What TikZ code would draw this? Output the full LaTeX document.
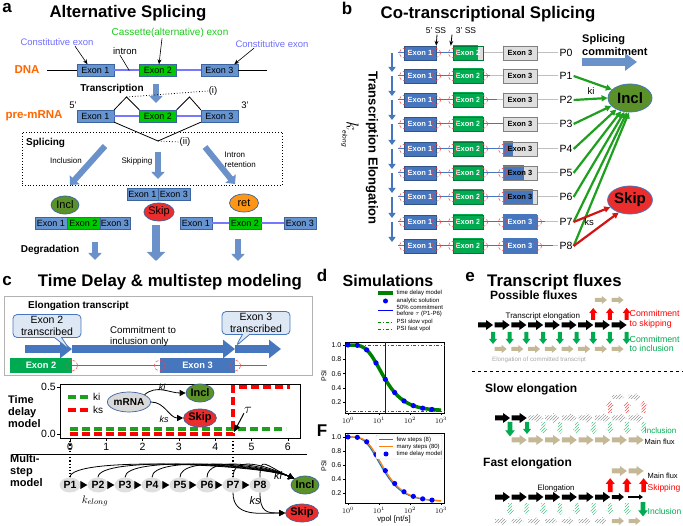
\documentclass[tikz,border=0pt]{standalone}
\usepackage{fontspec}
\setmainfont{Liberation Sans}
\usepackage{tikz}
\usetikzlibrary{arrows.meta, positioning, shapes.geometric, shapes.callouts, patterns, calc}

\newcommand\fsz[2]{\fontsize{#1}{#2}\selectfont}

\definecolor{exA}{RGB}{102,148,208}
\definecolor{exAbord}{RGB}{60,100,160}
\definecolor{exGA}{RGB}{0,200,0}
\definecolor{intr}{RGB}{120,120,255}
\definecolor{dnaor}{RGB}{255,102,0}
\definecolor{constcol}{RGB}{110,110,255}
\definecolor{cascol}{RGB}{30,200,30}
\definecolor{inclc}{RGB}{90,145,40}
\definecolor{skipc}{RGB}{235,45,45}
\definecolor{retc}{RGB}{255,150,20}
\definecolor{blkc}{RGB}{110,152,205}
\definecolor{exB}{RGB}{70,118,190}
\definecolor{exGB}{RGB}{0,170,80}
\definecolor{greyex}{RGB}{222,222,222}
\definecolor{kigreen}{RGB}{30,160,30}
\definecolor{kired}{RGB}{210,20,20}
\definecolor{callf}{RGB}{222,232,244}
\definecolor{beige}{RGB}{196,184,150}
\definecolor{fgreen}{RGB}{0,170,80}
\definecolor{mplblue}{RGB}{31,119,180}
\definecolor{mplorange}{RGB}{255,127,14}

\tikzset{
  panlab/.style={font=\fsz{17}{19}\bfseries, inner sep=0},
  ptitle/.style={font=\fsz{16.8}{19}\bfseries, inner sep=0},
  txt/.style={font=\fsz{9.5}{11}, inner sep=0.5pt},
  orlab/.style={font=\fsz{11.5}{13}\bfseries, text=dnaor, inner sep=0},
  exa/.style={rectangle, draw=exAbord, fill=exA, inner sep=0, minimum width=37,
              minimum height=12, font=\fsz{9}{10}},
  intron/.style={intr, line width=2pt},
  spl/.style={black, line width=0.8pt},
  ptr/.style={-{Stealth[length=5pt,width=4pt]}, line width=0.6pt},
  blka/.style={blkc, line width=6pt, -{Triangle[length=7pt,width=13pt]}},
  blkb/.style={blkc, line width=8pt, -{Triangle[length=9pt,width=18pt]}},
  ell/.style={ellipse, draw=exAbord, line width=0.7pt, inner sep=0, minimum width=28,
              minimum height=18, font=\fsz{11}{12}},
  exb/.style={rectangle, fill=exB, draw=exB!70!black, inner sep=0, minimum width=32,
              minimum height=14, text=white, font=\fsz{7.5}{8}\bfseries},
  bpart/.style 2 args={rectangle, inner sep=0, minimum height=14, fill=greyex,
              font=\fsz{7.5}{8}\bfseries,
              path picture={\fill[#1] (path picture bounding box.south west) rectangle ++(#2,-20);}},
  ssite/.style={circle, draw=red!75, densely dashed, line width=0.5pt, minimum size=9, inner sep=0},
  rowb/.style={exB, line width=1pt},
  rowg/.style={gray!50, line width=1pt},
  elarr/.style={exB, line width=2.5pt, -{Triangle[length=5pt,width=7pt]}, shorten >=4pt},
  bell/.style={ellipse, draw=exB, line width=0.8pt, inner sep=0, minimum width=44,
               minimum height=28, font=\fsz{15}{17}\bfseries},
  kia/.style={kigreen, line width=2.2pt, -{Triangle[length=6pt,width=6pt]}},
  ksa/.style={kired, line width=2.2pt, -{Triangle[length=6pt,width=6pt]}},
  blkc/.style={exB!80, line width=8pt, -{Triangle[length=12pt,width=17pt]}},
  bigarr/.style={exB, line width=8pt, -{Triangle[length=12pt,width=18pt]}},
  callbox/.style={rectangle callout, rounded corners=4pt, fill=callf, draw=exB,
                  line width=0.8pt, align=center, font=\fsz{10.5}{11.5}, inner sep=2pt, minimum width=68},
  exbar/.style={rectangle, inner sep=0, minimum height=15, text=white, font=\fsz{9.3}{10}\bfseries},
  kid/.style={kigreen, line width=3.5pt, dash pattern=on 8pt off 4pt},
  ksd/.style={red, line width=3.5pt, dash pattern=on 8pt off 4pt},
  curv/.style={-{Triangle[length=6pt,width=6pt]}, line width=0.8pt},
  pell/.style={ellipse, fill=gray!25, inner sep=0, minimum width=21, minimum height=15,
               font=\fsz{10.5}{11}\bfseries},
  tick/.style={font=\fsz{7}{8}, inner sep=0.5pt},
  leg/.style={anchor=west, font=\fsz{6}{6.5}, inner sep=0.5pt},
  tdm/.style={green!50!black, line width=3.5pt},
  psis/.style={green!50!black, line width=0.6pt, dash dot},
  psif/.style={red, line width=0.6pt, dash dot},
  small/.style={font=\fsz{8}{9.5}, inner sep=0.5pt},
  hatg/.style={pattern=north east lines, pattern color=gray!80},
  hatgr/.style={pattern=north east lines, pattern color=fgreen!70},
  hatr/.style={pattern=north east lines, pattern color=red!70},
  fa/.pic={\path[pic actions] (0,-2.5) -- (8,-2.5) -- (8,-5) -- (15,0) -- (8,5) -- (8,2.5) -- (0,2.5) -- cycle;},
  fb/.pic={\path[pic actions] (0,-2) -- (7,-2) -- (7,-4) -- (12,0) -- (7,4) -- (7,2) -- (0,2) -- cycle;}
}

\begin{document}
\begin{tikzpicture}[x=1pt, y=-1pt]
\useasboundingbox (0,0) rectangle (683,526);

% ---------- a: alternative splicing
\node[panlab] (la) at (7,8) {a};
\node[ptitle] (ta) at (128,13) {Alternative Splicing};

\node[orlab] (dna) at (27,70) {DNA};
\node[exa] (d1) at (95.5,70.5) {Exon 1};
\node[exa, fill=exGA] (d2) at (158,70.5) {Exon 2};
\node[exa] (d3) at (219.5,70.5) {Exon 3};
\coordinate (dl) at (47,70.5);
\coordinate (dr) at (267,70.5);
\draw (dl) -- (d1.west);
\draw (d3.east) -- (dr);
\draw[intron] (d1.east) -- (d2.west) (d2.east) -- (d3.west);

\node[txt, text=constcol] (ce1) at (57,42) {Constitutive exon};
\draw[ptr] ([xshift=18]ce1.south) -- ([xshift=-8]d1.north);
\node[txt] (intl) at (125,51) {intron};
\draw[line width=0.6pt] ([xshift=-5]intl.south) -- ($(d1.east)!0.6!(d2.west)$);
\node[txt, font=\fsz{10}{11}, text=cascol] (cas) at (170,33) {Cassette(alternative) exon};
\draw[ptr] ([xshift=-8]cas.south) -- ([xshift=1]d2.north);
\node[txt, text=constcol] (ce2) at (272,44) {Constitutive exon};
\draw[ptr] ([xshift=-18]ce2.south) -- ([xshift=-4]d3.north east);

\node[font=\fsz{10}{11}\bfseries, inner sep=0] (trs) at (112,89) {Transcription};
\coordinate (tr1) at (156,84);
\coordinate (tr2) at (156,103);
\draw[blka] (tr1) -- (tr2);

\node[orlab] (pre) at (34,116) {pre-mRNA};
\node[txt] (f5) at (73,105) {5'};
\node[exa] (m1) at (95.5,116) {Exon 1};
\node[exa, fill=exGA] (m2) at (158,116) {Exon 2};
\node[exa] (m3) at (219.5,116) {Exon 3};
\node[txt] (f3) at (245,105) {3'};
\draw[intron] (m1.east) -- (m2.west) (m2.east) -- (m3.west);
\coordinate (pk1) at (126.5,97);
\coordinate (pk2) at (189.5,97);
\coordinate (skj) at (158,141);
\draw[spl] (m1.north east) -- (pk1) -- (m2.north west);
\draw[spl] (m2.north east) -- (pk2) -- (m3.north west);
\draw[spl] (m1.south east) -- (skj) -- (m3.south west);
\node[txt] (li) at (213,91) {(i)};
\draw[dotted, thick] (pk1) -- (li.west);
\node[txt] (lii) at (185,142) {(ii)};
\draw[dotted, thick] (skj) -- (lii.west);

\node[draw, dotted, thick, minimum width=260, minimum height=53, inner sep=0] (spbox) at (152,158.5) {};
\node[font=\fsz{10}{11}\bfseries, anchor=west, inner sep=0] (splt) at (26,143) {Splicing};
\node[small] (inc) at (66,161) {Inclusion};
\node[small] (skp) at (137,161) {Skipping};
\node[small, align=left, anchor=west] (ret) at (224,160) {Intron\\retention};
\coordinate (a1s) at (105,146);
\coordinate (a1e) at (70,185);
\coordinate (a2s) at (158,152);
\coordinate (a2e) at (158,179);
\coordinate (a3s) at (205,147);
\coordinate (a3e) at (235,184);
\draw[blka] (a1s) -- (a1e);
\draw[blka] (a2s) -- (a2e);
\draw[blka] (a3s) -- (a3e);

\node[exa, minimum width=31] (s1) at (142.5,194) {Exon 1};
\node[exa, minimum width=32] (s3) at (174,194) {Exon 3};
\node[ell, fill=skipc] (skA) at (159,212) {Skip};
\node[ell, fill=inclc] (inA) at (65,205) {Incl};
\node[exa, minimum width=32] (i1) at (51,223) {Exon 1};
\node[exa, fill=exGA, minimum width=33] (i2) at (83.5,223) {Exon 2};
\node[exa, minimum width=30] (i3) at (115,223) {Exon 3};
\node[ell, fill=retc, minimum width=29] (reA) at (244,203) {ret};
\node[exa, minimum width=32] (r1) at (196,223) {Exon 1};
\node[exa, fill=exGA, minimum width=32] (r2) at (245,223) {Exon 2};
\node[exa, minimum width=32] (r3) at (300,223) {Exon 3};
\draw[intron] (r1.east) -- (r2.west) (r2.east) -- (r3.west);

\node[font=\fsz{10}{11}\bfseries, inner sep=0] (deg) at (50,250) {Degradation};
\coordinate (g1s) at (95,242);
\coordinate (g1e) at (95,260);
\coordinate (g2s) at (156,225);
\coordinate (g2e) at (156,261);
\coordinate (g3s) at (238,239);
\coordinate (g3e) at (238,261);
\draw[blka] (g1s) -- (g1e);
\draw[blkb] (g2s) -- (g2e);
\draw[blka] (g3s) -- (g3e);

% ---------- b: co-transcriptional splicing
\node[panlab] (lb) at (347,8) {b};
\node[ptitle] (tb) at (488,14) {Co-transcriptional Splicing};
\node[small, font=\fsz{8.5}{9}] (ss5) at (436,31) {5' SS};
\node[small, font=\fsz{8.5}{9}] (ss3) at (466,31) {3' SS};

\foreach \i/\y/\f/\gw/\bw/\bc/\tc in {0/53/483/25/0/gray/black, 1/76/490/30/0/gray/black,
    2/100/497/30/0/gray/black, 3/124/503/30/0/gray/black, 4/149/513/30/10/gray/black,
    5/173/524/30/21/gray/black, 6/197/533/30/30/gray/black, 7/222/545/30/34/exB/white,
    8/246/553/30/34/exB/white} {
  \coordinate (dn\i) at (392,\y);
  \coordinate (st\i) at (398,\y);
  \coordinate (fr\i) at (\f,\y);
  \node[font=\fsz{10.5}{11}, inner sep=1pt] (p\i) at (566,\y) {P\i};
  \draw[rowb] (st\i) -- (fr\i);
  \draw[rowg] (fr\i) -- (p\i.west);
  \node[exb] (ea\i) at (420,\y) {Exon 1};
  \node[bpart={exGB}{\gw}, minimum width=30, draw=exGB!70!black, text=white] (eb\i) at (468,\y) {Exon 2};
  \node[bpart={exB}{\bw}, minimum width=34, draw=\bc, text=\tc] (ec\i) at (520,\y) {Exon 3};
  \node[ssite] (ca\i) at (ea\i.west) {};
  \node[ssite] (cb\i) at (ea\i.east) {};
  \node[ssite] (cc\i) at (eb\i.west) {};
  \ifnum\i>0 \node[ssite] (cd\i) at (eb\i.east) {}; \fi
  \ifnum\i>3 \node[ssite] (ce\i) at (ec\i.west) {}; \fi
  \ifnum\i>6 \node[ssite] (cf\i) at (ec\i.east) {}; \fi
}
\foreach \i/\j in {0/1, 1/2, 2/3, 3/4, 4/5, 5/6, 6/7, 7/8}
  \draw[elarr] (dn\i) -- (dn\j);
\draw[ptr, line width=0.8pt] ([xshift=1]ss5.south) -- (ea0.north east);
\draw[ptr, line width=0.8pt] ([xshift=-14]ss3.south) -- ([xshift=-2]eb0.north west);

\node[rotate=-90, font=\fsz{13}{14}\bfseries, inner sep=0] (tel) at (372,148) {Transcription Elongation};
\node[rotate=-90, inner sep=0] (kel) at (350,134) {\fsz{18}{20}$k$\raisebox{-4pt}{\fsz{6.5}{7}\itshape elong}};

\node[bell, fill=inclc] (inB) at (630,98) {Incl};
\node[bell, fill=skipc] (skB) at (630,200) {Skip};
\node[font=\fsz{11}{12.5}\bfseries, align=left, anchor=west, inner sep=0] (scm) at (582,45) {Splicing\\commitment};
\coordinate (sc1) at (582,62);
\coordinate (sc2) at (637,62);
\draw[blkc] (sc1) -- (sc2);
\foreach \i/\a in {1/155, 2/180, 3/203, 4/220, 5/236, 6/248, 7/258, 8/266}
  \draw[kia] (p\i.east) -- (inB.\a);
\draw[ksa] (p7.east) -- (skB.200);
\draw[ksa] (p8.east) -- (skB.228);
\node[font=\fsz{9.5}{10}, inner sep=0] (kiB) at (591,91) {ki};
\node[font=\fsz{9.5}{10}, inner sep=0] (ksB) at (589,222) {ks};

% ---------- c: time delay and multistep model
\node[panlab] (lc) at (7,281) {c};
\node[ptitle, anchor=east] (tc) at (302,282) {Time Delay \& multistep modeling};
\node[draw=gray!60, line width=1pt, minimum width=308, minimum height=79, inner sep=0] (tbox) at (158,336.5) {};
\node[font=\fsz{10}{11}\bfseries, anchor=west, inner sep=0] (elt) at (28,306) {Elongation transcript};
\coordinate (ba0) at (25,349);
\coordinate (ba1) at (72,349);
\coordinate (ba2) at (235,349);
\coordinate (ba3) at (281,349);
\draw[bigarr] (ba0) -- (ba1);
\draw[bigarr] (ba1) -- (ba2);
\draw[bigarr] (ba2) -- (ba3);
\node[exbar, fill=exGB, minimum width=62] (cx2) at (41,365.5) {Exon 2};
\node[exbar, fill=exB, minimum width=75] (cx3) at (197.5,365.5) {Exon 3};
\coordinate (cxe) at (267,365.5);
\draw[exB, line width=1pt] (cx2.east) -- (cx3.west) (cx3.east) -- (cxe);
\node[ssite, minimum size=11] (cs1) at (cx2.east) {};
\node[ssite, minimum size=11] (cs2) at (cx3.west) {};
\node[ssite, minimum size=11] (cs3) at (cx3.east) {};
\node[callbox, callout absolute pointer={(70,350)}] (co2) at (47,326) {Exon 2\\transcribed};
\node[callbox, callout absolute pointer={(236,346)}] (co3) at (256,323) {Exon 3\\transcribed};
\node[font=\fsz{9.7}{11}, align=left, anchor=west, inner sep=0] (cmt) at (110,336) {Commitment to\\inclusion only};

\draw[line width=0.8pt] (60,384) rectangle (300,438);
\foreach \t in {0,...,6} {
  \draw ({70+36.3*\t},438) -- ++(0,3);
  \node[font=\fsz{10.5}{11}, inner sep=0] (xt\t) at ({70+36.3*\t},447) {\t};
}
\draw (60,434) -- ++(-3,0);
\draw (60,387) -- ++(-3,0);
\node[font=\fsz{10.5}{11}, anchor=east, inner sep=0] (yt0) at (56,434) {0.0};
\node[font=\fsz{10.5}{11}, anchor=east, inner sep=0] (yt5) at (56,387) {0.5};
\draw[kid] (70,429) -- (286,429);
\draw[ksd] (70,434) -- (233,434) -- (233,387) -- (290,387);
\draw[kid] (68,397) -- (88,397);
\node[font=\fsz{10}{11}, anchor=west, inner sep=0] (lki) at (93,397) {ki};
\draw[ksd] (68,410) -- (88,410);
\node[font=\fsz{10}{11}, anchor=west, inner sep=0] (lks) at (93,410) {ks};
\node[ell, fill=gray!30, minimum width=33, minimum height=20, font=\fsz{10}{11}\bfseries] (mr) at (129,402) {mRNA};
\node[ell, fill=inclc, font=\fsz{11}{12}\bfseries] (inC) at (200,393) {Incl};
\node[ell, fill=skipc, font=\fsz{11}{12}\bfseries] (skC) at (200,418) {Skip};
\draw[curv] (mr.north east) to[out=40, in=180] (inC.west);
\draw[curv] (mr.east) to[out=0, in=180] (skC.west);
\node[font=\fsz{9}{10}\itshape, inner sep=0] (kiC) at (162,387) {ki};
\node[font=\fsz{9}{10}\itshape, inner sep=0] (ksC) at (164,419) {ks};
\node[font=\fsz{14}{15}, inner sep=0] (tau) at (248,410) {$\tau$};
\coordinate (tauP) at (234,432);
\draw[-{Triangle[length=7pt,width=6pt]}, line width=1pt] (tau.south west) -- (tauP);

\node[font=\fsz{11}{12}\bfseries, align=left, anchor=west, inner sep=0] (tdl) at (8,412) {Time\\delay\\model};
\coordinate (sep1) at (12,454);
\coordinate (sep2) at (307,454);
\draw[line width=0.8pt] (sep1) -- (sep2);
\node[font=\fsz{11}{12}\bfseries, align=left, anchor=west, inner sep=0] (msl) at (10,471) {Multi-\\step\\model};

\foreach \i/\x in {1/70, 2/98, 3/125, 4/152, 5/180, 6/207, 7/233, 8/260}
  \node[pell] (q\i) at (\x,485) {P\i};
\foreach \i/\j in {1/2, 2/3, 3/4, 4/5, 5/6, 6/7, 7/8}
  \draw[-{Triangle[length=7pt,width=8pt]}, line width=1pt] (q\i) -- (q\j);
\coordinate (dt1) at (70,438);
\coordinate (dt7) at (233,438);
\draw[dotted, line width=1.2pt] (dt1) -- (q1.north);
\draw[dotted, line width=1.2pt] (dt7) -- (q7.north);
\node[ell, fill=inclc, font=\fsz{11}{12}\bfseries] (inD) at (305,485) {Incl};
\node[ell, fill=skipc, font=\fsz{11}{12}\bfseries] (skD) at (302,513) {Skip};
\foreach \i in {1,...,8}
  \draw[curv] (q\i.north) .. controls +(0,-22) and +(-30,-14) .. (inD.150);
\draw[curv] (q7.south) .. controls +(0,25) and +(-25,0) .. (skD.west);
\draw[curv] (q8.south) .. controls +(0,20) and +(-18,0) .. (skD.west);
\node[font=\fsz{11}{12}\itshape, inner sep=0] (kiD) at (278,476) {ki};
\node[font=\fsz{11}{12}\itshape, inner sep=0] (ksD) at (255,501) {ks};
\node[font=\fsz{11}{12}, inner sep=0] (kel2) at (95,501) {$k_{elong}$};

% ---------- d: simulations
\node[panlab] (ld) at (322,275) {d};
\node[ptitle, font=\fsz{16}{18}\bfseries] (td) at (388,281) {Simulations};
\draw[line width=0.5pt] (345,342) rectangle (444,413);
\foreach \n/\v in {1/1.0, 2/0.8, 3/0.6, 4/0.4, 5/0.2} {
  \draw (345,{416.5-71.5*\v}) -- ++(-2,0);
  \node[tick, anchor=east] (yd\n) at (342,{416.5-71.5*\v}) {\v};
}
\foreach \e in {0,1,2,3} {
  \draw ({348+31*\e},413) -- ++(0,2);
  \node[tick] (xd\e) at ({348+31*\e},420) {$10^{\e}$};
}
\node[tick, rotate=90] (psa) at (324,376) {PSI};
\draw[psis] (345,345) -- (444,345);
\draw[psif] (345,411) -- (444,411);
\draw[tdm] plot[domain=0:3, samples=60, smooth] ({348+31*\x},{416.5-71.5*(1-0.92*exp(-10.4/pow(10,\x)))});
\draw[blue, line width=0.6pt] (385,342) -- (385,413);
\foreach \k in {0,...,9}
  \fill[blue] ({348+31*0.30103*\k},{416.5-71.5*(1-0.92*exp(-10.4/pow(2,\k)))}) circle (2.6);
\draw[tdm] (378,293) -- (393,293);
\node[leg] (lg1) at (396,293) {time delay model};
\fill[blue] (385.5,301) circle (2.5);
\node[leg] (lg2) at (396,301) {analytic solution};
\draw[blue, line width=0.6pt] (378,310) -- (393,310);
\node[leg, align=left] (lg3) at (396,311) {50\% commitment\\before $\tau$ (P1-P6)};
\draw[psis] (378,322) -- (393,322);
\node[leg] (lg4) at (396,322) {PSI slow vpol};
\draw[psif] (378,329) -- (393,329);
\node[leg] (lg5) at (396,329) {PSI fast vpol};

\node[panlab] (lf) at (322,431) {F};
\draw[line width=0.5pt] (345,433) rectangle (444,503);
\foreach \n/\v in {1/1.0, 2/0.8, 3/0.6, 4/0.4, 5/0.2} {
  \draw (345,{507-70*\v}) -- ++(-2,0);
  \node[tick, anchor=east] (yf\n) at (342,{507-70*\v}) {\v};
}
\foreach \e in {0,1,2,3} {
  \draw ({348+31*\e},503) -- ++(0,2);
  \node[tick] (xf\e) at ({348+31*\e},510) {$10^{\e}$};
}
\node[tick, rotate=90] (psb) at (324,466) {PSI};
\node[font=\fsz{7.8}{8.5}, inner sep=0] (vpl) at (394,519) {vpol [nt/s]};
\draw[mplblue, line width=1.2pt] plot[domain=0:3, samples=60, smooth] ({348+31*\x},{507-70*(1-0.92*exp(-9.3/pow(10,\x)))});
\draw[mplorange, line width=1.2pt] plot[domain=0:3, samples=60, smooth] ({348+31*\x},{507-70*(1-0.92*exp(-10.4/pow(10,\x)))});
\foreach \k in {0,...,9}
  \fill[blue] ({348+31*0.30103*\k},{507-70*(1-0.92*exp(-10.4/pow(2,\k)))}) circle (2.6);
\draw[gray!40, rounded corners=1pt, fill=white] (376,435) rectangle (442,459);
\draw[mplblue, line width=1.2pt] (379,439.5) -- (393,439.5);
\node[leg] (lf1) at (396,439.5) {few steps (8)};
\draw[mplorange, line width=1.2pt] (379,446.5) -- (393,446.5);
\node[leg] (lf2) at (396,446.5) {many steps (80)};
\fill[blue] (386,454) circle (2.5);
\node[leg] (lf3) at (396,454) {time delay model};

% ---------- e: transcript fluxes
\node[panlab] (le) at (470,277) {e};
\node[ptitle, anchor=west] (te) at (487,282) {Transcript fluxes};
\node[font=\fsz{12}{13}\bfseries, anchor=west, inner sep=0] (pfx) at (490,295) {Possible fluxes};
\foreach \k in {0,...,8} {
  \pic[fill=black] at ({478+16.7*\k},325) {fa};
  \pic[fill=fgreen, rotate=-90] at ({493+16.7*\k},332) {fb};
}
\foreach \k in {1,...,8}
  \pic[fill=beige] at ({478+16.7*\k},349) {fb};
\foreach \k in {6,7,8}
  \pic[fill=red, rotate=90] at ({493+16.7*\k},320) {fb};
\foreach \k in {7,8}
  \pic[fill=beige] at ({478+16.7*\k},300) {fb};
\node[small, anchor=west] (tel2) at (505,316) {Transcript elongation};
\node[small, font=\fsz{8.8}{9.5}, text=red, align=left, anchor=west] (cts) at (629,319) {Commitment\\to skipping};
\node[small, font=\fsz{8.8}{9.5}, text=fgreen, align=left, anchor=west] (cti) at (629,344) {Commitment\\to inclusion};
\node[font=\fsz{6.2}{7}, text=gray!70, anchor=west, inner sep=0] (ecl) at (492,360) {Elongation of committed transcript};
\coordinate (sp1) at (472,371);
\coordinate (sp2) at (683,371);
\draw[dashed, line width=0.6pt] (sp1) -- (sp2);

\node[font=\fsz{12}{13}\bfseries, anchor=west, inner sep=0] (slw) at (485,389) {Slow elongation};
\foreach \k in {0,1}
  \pic[fill=black] at ({495+16.7*\k},418) {fa};
\foreach \k in {2,...,8}
  \pic[hatg] at ({495+16.7*\k},418) {fa};
\pic[fill=fgreen, rotate=-90, scale=1.2] at (510,422) {fb};
\pic[fill=fgreen, rotate=-90] at (527,422) {fb};
\foreach \k in {2,...,8}
  \pic[hatgr, rotate=-90] at ({510+16.7*\k},422) {fb};
\foreach \k in {1,...,8}
  \pic[fill=beige] at ({495+16.7*\k},440) {fa};
\foreach \k in {6,7,8}
  \pic[hatr, rotate=90] at ({510+16.7*\k},413) {fb};
\foreach \k in {7,8}
  \pic[hatg] at ({495+16.7*\k},397) {fb};
\node[small, text=fgreen, anchor=west] (sin) at (644,431) {Inclusion};
\node[small, font=\fsz{7.5}{8}, anchor=west] (smf) at (644,442) {Main flux};

\node[font=\fsz{12}{13}\bfseries, anchor=west, inner sep=0] (fst) at (483,463) {Fast elongation};
\foreach \k in {0,...,6}
  \pic[fill=black] at ({495+16.7*\k},497) {fa};
\pic[fill=black] at ({495+16.7*7},497) {fb};
\coordinate (fx1) at (628,497);
\coordinate (fx2) at (643,497);
\draw[line width=1.5pt, -{Triangle[length=4pt,width=5pt]}] (fx1) -- (fx2);
\node[small, font=\fsz{7.8}{8.5}, anchor=west] (fel) at (537,488) {Elongation};
\foreach \k in {6,7,8}
  \pic[fill=red, rotate=90, scale=1.15] at ({510+16.7*\k},492) {fb};
\foreach \k in {7,8}
  \pic[fill=beige] at ({495+16.7*\k},471) {fa};
\node[small, font=\fsz{7.5}{8}, anchor=west] (fmf) at (647,476) {Main flux};
\node[font=\fsz{8.5}{9}, text=red, anchor=west, inner sep=0.5pt] (fsk) at (647,488) {Skipping};
\foreach \k in {0,...,7}
  \pic[hatgr, rotate=-90] at ({510+16.7*\k},503) {fb};
\pic[fill=fgreen, rotate=-90, scale=1.2] at (643,502) {fb};
\node[font=\fsz{8.5}{9}, text=fgreen, anchor=west, inner sep=0.5pt] (fin) at (647,511) {Inclusion};
\foreach \k in {0,...,6}
  \pic[hatg] at ({495+16.7*\k},521) {fb};
\foreach \k in {7,8}
  \pic[fill=beige] at ({495+16.7*\k},521) {fb};

\end{tikzpicture}
\end{document}
